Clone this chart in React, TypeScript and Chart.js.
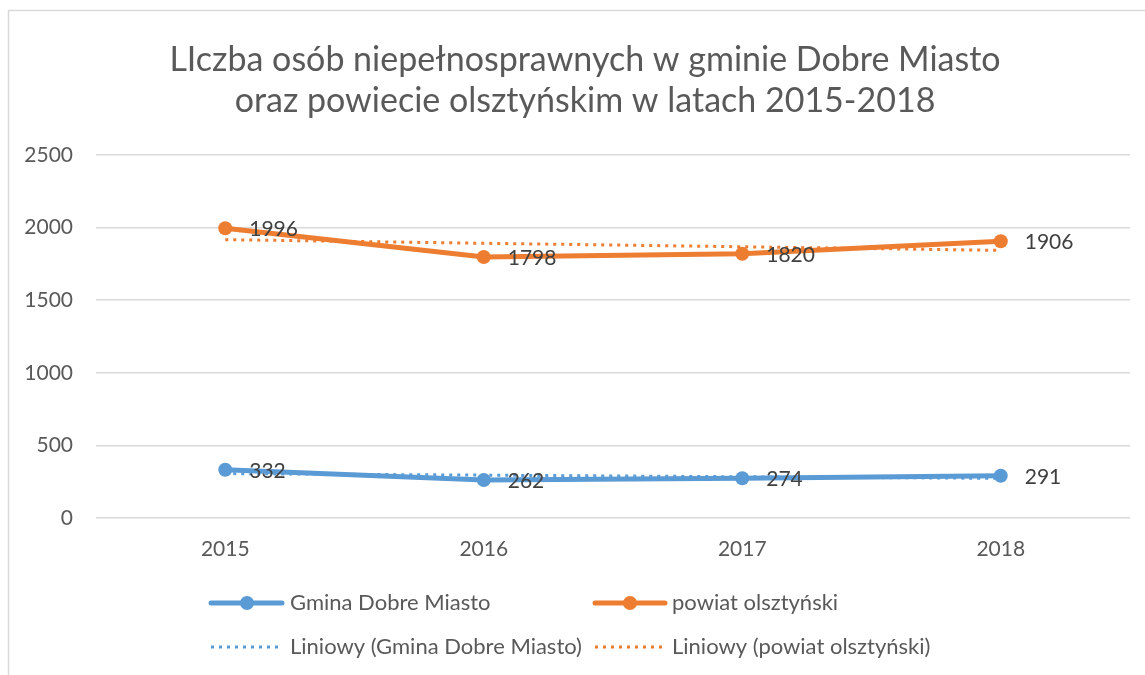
import React, { useEffect, useRef } from "react";
import { Chart, registerables } from "chart.js";

Chart.register(...registerables);

const years = ["2015", "2016", "2017", "2018"];
const gmina = [332, 262, 274, 291];
const powiat = [1996, 1798, 1820, 1906];
const gminaTrend = [306, 295, 284, 273];
const powiatTrend = [1917, 1892, 1868, 1843];
const yTicks = [0, 500, 1000, 1500, 2000, 2500];
const titleLines = [
  "LIczba osób niepełnosprawnych w gminie Dobre Miasto",
  "oraz powiecie olsztyńskim w latach 2015-2018",
];
const legendItems = [
  { text: "Gmina Dobre Miasto", color: "#5B9BD5", dotted: false },
  { text: "powiat olsztyński", color: "#ED7D31", dotted: false },
  { text: "Liniowy (Gmina Dobre Miasto)", color: "#5B9BD5", dotted: true },
  { text: "Liniowy (powiat olsztyński)", color: "#ED7D31", dotted: true },
];

const FONT = "Lato, 'Open Sans', sans-serif";
const TEXT = "#595959";

const decorPlugin = {
  id: "decor",
  beforeDraw(chart: any) {
    const ctx = chart.ctx;
    ctx.save();
    ctx.fillStyle = "#ffffff";
    ctx.fillRect(0, 0, chart.width, chart.height);
    ctx.strokeStyle = "#d9d9d9";
    ctx.lineWidth = 1.5;
    ctx.beginPath();
    ctx.moveTo(8.5, chart.height);
    ctx.lineTo(8.5, 10.5);
    ctx.lineTo(chart.width, 10.5);
    ctx.stroke();
    // title
    ctx.fillStyle = TEXT;
    ctx.font = `34px ${FONT}`;
    ctx.textAlign = "center";
    ctx.textBaseline = "middle";
    ctx.fillText(titleLines[0], 585, 60);
    ctx.fillText(titleLines[1], 585, 101);
    ctx.restore();
  },
  afterDatasetsDraw(chart: any) {
    const ctx = chart.ctx;
    ctx.save();
    ctx.fillStyle = "#404040";
    ctx.font = `21px ${FONT}`;
    ctx.textAlign = "left";
    ctx.textBaseline = "middle";
    [0, 1].forEach((di) => {
      const meta = chart.getDatasetMeta(di);
      const vals = chart.data.datasets[di].data;
      meta.data.forEach((pt: any, i: number) => {
        ctx.fillText(String(vals[i]), pt.x + 24, pt.y + 1);
      });
    });
    // legend
    const cols = [
      { lineL: 211, lineR: 282, mark: 247, text: 290 },
      { lineL: 595, lineR: 665, mark: 630, text: 672 },
    ];
    const rows = [603, 647];
    legendItems.forEach((it, idx) => {
      const c = cols[idx % 2];
      const y = rows[Math.floor(idx / 2)];
      ctx.strokeStyle = it.color;
      ctx.fillStyle = it.color;
      ctx.beginPath();
      if (it.dotted) {
        ctx.lineWidth = 3;
        ctx.setLineDash([3, 5]);
        ctx.lineCap = "butt";
      } else {
        ctx.lineWidth = 5;
        ctx.setLineDash([]);
        ctx.lineCap = "round";
      }
      ctx.moveTo(c.lineL, y);
      ctx.lineTo(c.lineR, y);
      ctx.stroke();
      ctx.setLineDash([]);
      if (!it.dotted) {
        ctx.beginPath();
        ctx.arc(c.mark, y, 7, 0, Math.PI * 2);
        ctx.fill();
      }
      ctx.fillStyle = TEXT;
      ctx.font = `22px ${FONT}`;
      ctx.textAlign = "left";
      ctx.textBaseline = "middle";
      ctx.fillText(it.text, c.text, y);
    });
    ctx.restore();
  },
};

export default function App() {
  const ref = useRef<HTMLCanvasElement>(null);
  useEffect(() => {
    if (!ref.current) return;
    const chart = new Chart(ref.current, {
      type: "line",
      data: {
        labels: years,
        datasets: [
          {
            label: "Gmina Dobre Miasto",
            data: gmina,
            borderColor: "#5B9BD5",
            backgroundColor: "#5B9BD5",
            borderWidth: 5,
            pointRadius: 7,
            pointBorderWidth: 0,
            tension: 0,
            order: 1,
          },
          {
            label: "powiat olsztyński",
            data: powiat,
            borderColor: "#ED7D31",
            backgroundColor: "#ED7D31",
            borderWidth: 5,
            pointRadius: 7,
            pointBorderWidth: 0,
            tension: 0,
            order: 1,
          },
          {
            label: "Liniowy (Gmina Dobre Miasto)",
            data: gminaTrend,
            borderColor: "#5B9BD5",
            borderWidth: 3,
            borderDash: [3, 5],
            pointRadius: 0,
            tension: 0,
            order: 0,
          },
          {
            label: "Liniowy (powiat olsztyński)",
            data: powiatTrend,
            borderColor: "#ED7D31",
            borderWidth: 3,
            borderDash: [3, 5],
            pointRadius: 0,
            tension: 0,
            order: 0,
          },
        ],
      },
      options: {
        responsive: false,
        animation: false,
        devicePixelRatio: 1,
        layout: { padding: { top: 155, right: 15, left: 0, bottom: 0 } },
        plugins: {
          legend: { display: false },
          title: { display: false },
          tooltip: { enabled: false },
        },
        scales: {
          x: {
            offset: true,
            grid: { display: false, drawTicks: false },
            border: { display: false },
            ticks: {
              color: TEXT,
              font: { family: FONT, size: 21 },
              padding: 19,
            },
            afterFit(scale: any) {
              scale.height = 157;
            },
          },
          y: {
            min: 0,
            max: 2500,
            afterBuildTicks(scale: any) {
              scale.ticks = yTicks.map((v) => ({ value: v }));
            },
            grid: { color: "#d9d9d9", lineWidth: 1.5, drawTicks: false },
            border: { display: false },
            ticks: {
              color: TEXT,
              font: { family: FONT, size: 21 },
              padding: 23,
              callback: (v: any) => String(v),
            },
            afterFit(scale: any) {
              scale.width = 96;
            },
          },
        },
      },
      plugins: [decorPlugin],
    });
    return () => chart.destroy();
  }, []);
  return (
    <div style={{ position: "absolute", left: 0, top: 0, width: 1145, height: 675 }}>
      <canvas ref={ref} width={1145} height={675} style={{ display: "block" }} />
    </div>
  );
}
